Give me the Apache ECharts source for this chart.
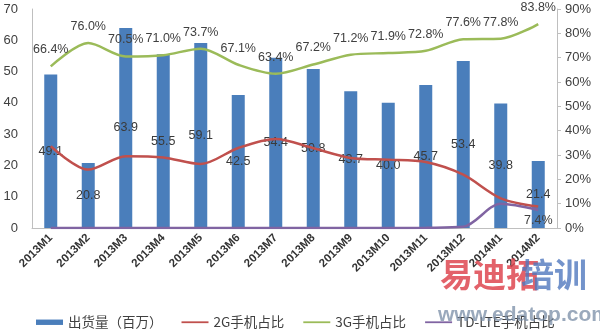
<!DOCTYPE html>
<html><head><meta charset="utf-8">
<script src="https://cdn.jsdelivr.net/npm/echarts@6/dist/echarts.min.js"></script>
<style>html,body{margin:0;padding:0;background:#fff}#c{width:600px;height:333px}</style>
</head><body><div id="c"></div>
<script>
const categories = ['2013M1','2013M2','2013M3','2013M4','2013M5','2013M6','2013M7','2013M8','2013M9','2013M10','2013M11','2013M12','2014M1','2014M2'];
const shipments = [49.1,20.8,63.9,55.5,59.1,42.5,54.4,50.8,43.7,40.0,45.7,53.4,39.8,21.4];
const share2G = [33.6,24.0,29.5,29.0,26.3,32.9,36.6,32.8,28.8,28.1,27.1,21.9,12.2,8.8];
const share3G = [66.4,76.0,70.5,71.0,73.7,67.1,63.4,67.2,71.2,71.9,72.8,77.6,77.8,83.8];
const shareLTE = [0,0,0,0,0,0,0,0,0,0,0.1,0.5,10.0,7.4];
const leftTicks = {min:0,max:70,interval:10};
const rightTicks = {min:0,max:90,interval:10};
const names = ['出货量（百万）','2G手机占比','3G手机占比','TD-LTE手机占比'];

const font = 'Liberation Sans, Arial, sans-serif';
const cjk = 'Noto Sans CJK SC, sans-serif';
const chart = echarts.init(document.getElementById('c'));
chart.setOption({
  animation:false,
  textStyle:{fontFamily:font},
  grid:{left:32,right:43,top:9,bottom:105},
  legend:{
    left:31,bottom:-1,itemWidth:27,itemHeight:6,itemGap:19,
    textStyle:{fontFamily:cjk,fontSize:13.5,color:'#404040'},
    data:[
      {name:names[0],icon:'path://M0 0H30V6H0Z'},
      {name:names[1],icon:'path://M0 0H30V2H0Z'},
      {name:names[2],icon:'path://M0 0H30V2H0Z'},
      {name:names[3],icon:'path://M0 0H30V2H0Z'}
    ]
  },
  xAxis:{
    type:'category',data:categories,
    axisLine:{lineStyle:{color:'#bfbfbf'}},
    axisTick:{show:false},
    axisLabel:{rotate:45,fontSize:11.5,fontWeight:'bold',color:'#333',margin:8,interval:0}
  },
  yAxis:[
    {type:'value',min:leftTicks.min,max:leftTicks.max,interval:leftTicks.interval,
     splitLine:{show:false},
     axisLine:{show:true,lineStyle:{color:'#bfbfbf'}},
     axisTick:{show:false},
     axisLabel:{fontSize:13,color:'#404040',margin:14}},
    {type:'value',min:rightTicks.min,max:rightTicks.max,interval:rightTicks.interval,
     splitLine:{show:false},
     axisLine:{show:true,lineStyle:{color:'#bfbfbf'}},
     axisTick:{show:true,length:4,lineStyle:{color:'#bfbfbf'}},
     axisLabel:{fontSize:13,color:'#404040',formatter:'{value}%',margin:8}}
  ],
  series:[
    {name:names[0],type:'bar',data:shipments,barWidth:13,
     itemStyle:{color:'#4a7ebb'},
     label:{show:true,position:'inside',color:'#3a3a3a',fontSize:12.5,formatter:p=>p.value.toFixed(1)}},
    {name:names[1],type:'line',yAxisIndex:1,data:share2G,smooth:0.3,symbol:'circle',symbolSize:0,
     lineStyle:{color:'#c0504d',width:2.5},itemStyle:{color:'#c0504d'},z:3},
    {name:names[2],type:'line',yAxisIndex:1,data:share3G,smooth:0.3,symbol:'circle',symbolSize:0,showSymbol:true,
     lineStyle:{color:'#9bbb59',width:2.5},itemStyle:{color:'#9bbb59'},
     label:{show:true,position:'top',distance:10,color:'#404040',fontSize:12.5,formatter:p=>p.value.toFixed(1)+'%'}},
    {name:names[3],type:'line',yAxisIndex:1,data:shareLTE,smooth:0.3,symbol:'circle',symbolSize:0,showSymbol:true,
     lineStyle:{color:'#8064a2',width:2.5},itemStyle:{color:'#8064a2'},z:4,
     label:{show:true,position:'bottom',distance:4,color:'#404040',fontSize:12.5,
       formatter:p=>p.dataIndex===shareLTE.length-1?p.value.toFixed(1)+'%':''}}
  ],
  graphic:[
    {type:'text',left:440,top:258,z:100,style:{text:'易迪拓',fontFamily:cjk,fontSize:33,fontWeight:'bold',fill:'rgba(222,70,80,0.85)'}},
    {type:'text',left:521,top:258,z:100,style:{text:'培训',fontFamily:cjk,fontSize:33,fontWeight:'bold',fill:'rgba(80,120,190,0.8)'}},
    {type:'text',left:438,top:305,z:100,style:{text:'www.edatop.com',fontFamily:font,fontSize:21,fontWeight:'bold',fill:'rgba(120,140,165,0.75)'}}
  ]
});
</script></body></html>
